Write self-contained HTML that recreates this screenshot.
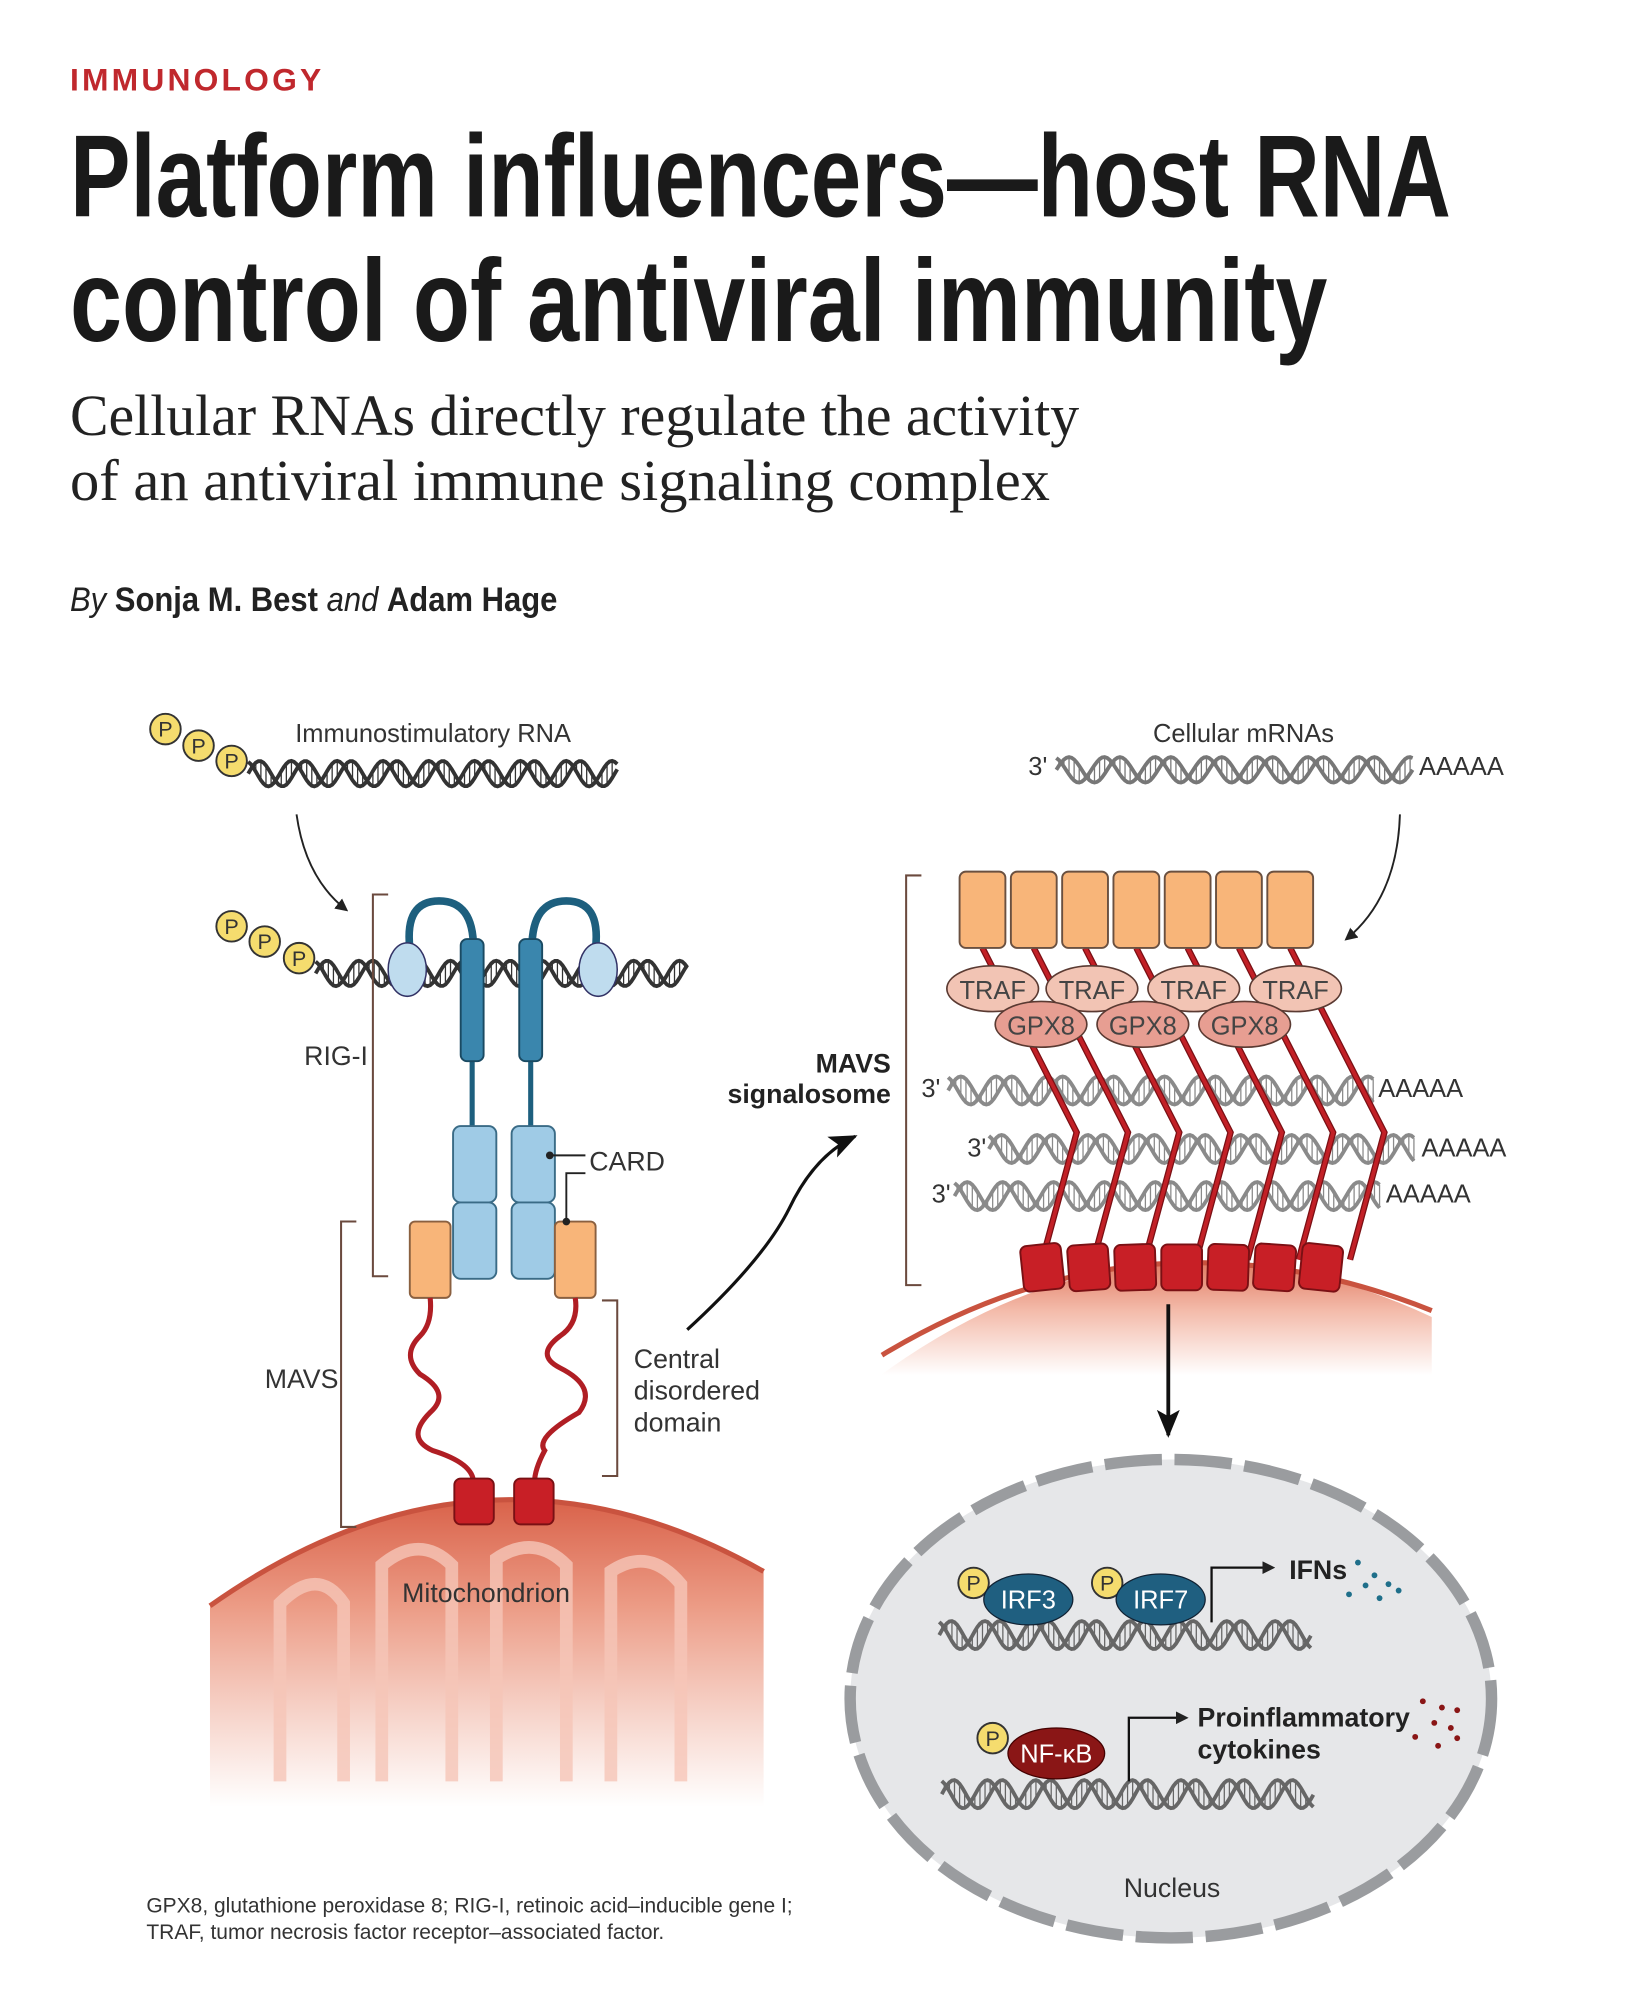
<!DOCTYPE html>
<html><head><meta charset="utf-8">
<style>
html,body{margin:0;padding:0;background:#fff;}
svg{display:block;}
text{font-family:"Liberation Sans",sans-serif;}
</style></head>
<body>
<svg id="s" width="1629" height="1999" viewBox="0 0 1280 1571" preserveAspectRatio="none" xmlns="http://www.w3.org/2000/svg">
<defs>
<linearGradient id="mito" x1="0" y1="0" x2="0" y2="1">
<stop offset="0" stop-color="#d9624a"/><stop offset="0.35" stop-color="#ec9c86"/><stop offset="1" stop-color="#fff" stop-opacity="0.9"/>
</linearGradient>
<linearGradient id="mito2" x1="0" y1="0" x2="0" y2="1">
<stop offset="0" stop-color="#e07a62"/><stop offset="0.25" stop-color="#f3b9a8"/><stop offset="0.6" stop-color="#fff"/>
</linearGradient>
<marker id="ah" markerWidth="10" markerHeight="10" refX="8" refY="5" orient="auto" markerUnits="userSpaceOnUse"><path d="M0,0 L10,5 L0,10 Z" fill="#222"/></marker>
<marker id="ahb" markerWidth="22" markerHeight="18" refX="20" refY="9" orient="auto" markerUnits="userSpaceOnUse"><path d="M0,0 L22,9 L0,18 L5,9 Z" fill="#111"/></marker>
</defs>

<!-- header -->
<text x="55" y="71" font-size="25" font-weight="bold" fill="#c0282d" letter-spacing="2.5">IMMUNOLOGY</text>
<text x="55" y="170" font-size="92" font-weight="bold" fill="#1a1a1a" textLength="1085" lengthAdjust="spacingAndGlyphs">Platform influencers—host RNA</text>
<text x="55" y="268" font-size="92" font-weight="bold" fill="#1a1a1a" textLength="988" lengthAdjust="spacingAndGlyphs">control of antiviral immunity</text>
<text x="55" y="342" font-size="46" fill="#222" style="font-family:'Liberation Serif',serif" textLength="793" lengthAdjust="spacingAndGlyphs">Cellular RNAs directly regulate the activity</text>
<text x="55" y="393" font-size="46" fill="#222" style="font-family:'Liberation Serif',serif" textLength="770" lengthAdjust="spacingAndGlyphs">of an antiviral immune signaling complex</text>
<text x="55" y="480" font-size="27" fill="#222" textLength="383" lengthAdjust="spacingAndGlyphs"><tspan font-style="italic">By </tspan><tspan font-weight="bold">Sonja M. Best</tspan><tspan font-style="italic"> and </tspan><tspan font-weight="bold">Adam Hage</tspan></text>

<!-- mitochondrion -->
<path d="M165,1420 L165,1262 Q380,1110 600,1235 L600,1420 Z" fill="url(#mito)"/>
<path d="M165,1262 Q380,1110 600,1235" fill="none" stroke="#c9533f" stroke-width="4"/>
<g fill="none" stroke="#f6c6b8" stroke-width="10" opacity="0.8">
<path d="M220,1400 L220,1260 Q250,1230 270,1260 L270,1400"/>
<path d="M300,1400 L300,1230 Q330,1205 355,1230 L355,1400"/>
<path d="M390,1400 L390,1225 Q420,1205 445,1230 L445,1400"/>
<path d="M480,1400 L480,1235 Q510,1215 535,1245 L535,1400"/>
</g>
<text x="316" y="1259" font-size="21" fill="#333">Mitochondrion</text>

<!-- right membrane -->
<path d="M693,1080 Q900,930 1125,1035 L1125,1140 L693,1140 Z" fill="url(#mito2)"/>
<path d="M693,1065 Q900,940 1125,1030" fill="none" stroke="#c9533f" stroke-width="4"/>

<!-- nucleus -->
<ellipse cx="920" cy="1335" rx="252" ry="188" fill="#e6e7e9" stroke="#9a9c9f" stroke-width="9" stroke-dasharray="45 10"/>

<g id="dyn"></g>

<!-- P circles -->
<g fill="#f5dc6e" stroke="#333" stroke-width="1.5" font-size="17">
<circle cx="130" cy="573" r="12"/><circle cx="156" cy="586" r="12"/><circle cx="182" cy="598" r="12"/>
<circle cx="182" cy="728" r="12"/><circle cx="208" cy="740" r="12"/><circle cx="235" cy="753" r="12"/>
<circle cx="765" cy="1244" r="12"/><circle cx="870" cy="1244" r="12"/><circle cx="780" cy="1366" r="12"/>
</g>
<g font-size="17" fill="#333" text-anchor="middle">
<text x="130" y="579">P</text><text x="156" y="592">P</text><text x="182" y="604">P</text>
<text x="182" y="734">P</text><text x="208" y="746">P</text><text x="235" y="759">P</text>
<text x="765" y="1250">P</text><text x="870" y="1250">P</text><text x="780" y="1372">P</text>
</g>

<text x="232" y="583" font-size="20" fill="#333">Immunostimulatory RNA</text>
<path d="M233,640 Q240,690 272,715" fill="none" stroke="#222" stroke-width="1.5" marker-end="url(#ah)"/>

<!-- RIG-I -->
<g fill="none" stroke="#1d5f7e" stroke-width="6">
<path d="M322,745 Q318,708 345,708 Q372,708 372,745"/>
<path d="M418,745 Q418,708 445,708 Q472,708 468,745"/>
<line x1="371" y1="830" x2="371" y2="888" stroke-width="4"/>
<line x1="417" y1="830" x2="417" y2="888" stroke-width="4"/>
</g>
<ellipse cx="320" cy="762" rx="15" ry="21" fill="#bfdcee" stroke="#336" stroke-width="1.2"/>
<ellipse cx="470" cy="762" rx="15" ry="21" fill="#bfdcee" stroke="#336" stroke-width="1.2"/>
<rect x="362" y="738" width="18" height="96" rx="5" fill="#3a86ad" stroke="#1a4a62" stroke-width="1.5"/>
<rect x="408" y="738" width="18" height="96" rx="5" fill="#3a86ad" stroke="#1a4a62" stroke-width="1.5"/>
<g fill="#9fcbe6" stroke="#3a6b86" stroke-width="1.5">
<rect x="356" y="885" width="34" height="60" rx="6"/><rect x="356" y="945" width="34" height="60" rx="6"/>
<rect x="402" y="885" width="34" height="60" rx="6"/><rect x="402" y="945" width="34" height="60" rx="6"/>
</g>
<g fill="#f8b579" stroke="#8a6040" stroke-width="1.5">
<rect x="322" y="960" width="32" height="60" rx="4"/><rect x="436" y="960" width="32" height="60" rx="4"/>
</g>
<!-- disordered domains -->
<g fill="none" stroke="#b01e24" stroke-width="4">
<path d="M338,1020 Q340,1040 330,1050 Q315,1065 330,1080 Q355,1095 338,1110 Q318,1130 340,1140 Q372,1150 372,1165"/>
<path d="M452,1020 Q455,1040 440,1050 Q420,1065 440,1075 Q470,1090 455,1110 Q420,1130 428,1140 Q420,1155 420,1165"/>
</g>
<rect x="357" y="1162" width="31" height="36" rx="5" fill="#c81f26" stroke="#7a1014" stroke-width="1.5"/>
<rect x="404" y="1162" width="31" height="36" rx="5" fill="#c81f26" stroke="#7a1014" stroke-width="1.5"/>

<!-- brackets -->
<g fill="none" stroke="#6b4a3e" stroke-width="1.6">
<path d="M305,703 L293,703 L293,1003 L305,1003"/>
<path d="M280,960 L268,960 L268,1200 L280,1200"/>
<path d="M473,1022 L485,1022 L485,1160 L473,1160"/>
<path d="M724,688 L712,688 L712,1010 L724,1010"/>
</g>
<g stroke="#222" stroke-width="1.5" fill="none">
<path d="M432,908 L460,908"/><path d="M445,960 L445,922 L460,922"/>
</g>
<circle cx="432" cy="908" r="3" fill="#222"/><circle cx="445" cy="960" r="3" fill="#222"/>
<text x="463" y="920" font-size="21" fill="#333">CARD</text>
<text x="239" y="837" font-size="21" fill="#333">RIG-I</text>
<text x="208" y="1091" font-size="21" fill="#333">MAVS</text>
<text x="498" y="1075" font-size="21" fill="#333">Central</text>
<text x="498" y="1100" font-size="21" fill="#333">disordered</text>
<text x="498" y="1125" font-size="21" fill="#333">domain</text>

<!-- curved arrow to signalosome -->
<path d="M540,1045 Q600,990 620,950 Q640,908 672,893" fill="none" stroke="#111" stroke-width="2.5" marker-end="url(#ahb)"/>

<!-- right top -->
<text x="906" y="583" font-size="20" fill="#333">Cellular mRNAs</text>
<text x="808" y="609" font-size="20" fill="#333">3'</text>
<text x="1115" y="609" font-size="20" fill="#333">AAAAA</text>
<path d="M1100,640 Q1098,705 1058,738" fill="none" stroke="#222" stroke-width="1.5" marker-end="url(#ah)"/>
<text x="700" y="843" font-size="21" font-weight="bold" fill="#222" text-anchor="end">MAVS</text>
<text x="700" y="867" font-size="21" font-weight="bold" fill="#222" text-anchor="end">signalosome</text>
<text x="724" y="862" font-size="20" fill="#333">3'</text><text x="1083" y="862" font-size="20" fill="#333">AAAAA</text>
<text x="760" y="909" font-size="20" fill="#333">3'</text><text x="1117" y="909" font-size="20" fill="#333">AAAAA</text>
<text x="732" y="945" font-size="20" fill="#333">3'</text><text x="1089" y="945" font-size="20" fill="#333">AAAAA</text>

<g id="dyn2"></g>

<!-- down arrow -->
<line x1="918" y1="1025" x2="918" y2="1128" stroke="#111" stroke-width="3" marker-end="url(#ahb)"/>

<!-- nucleus contents -->
<ellipse cx="808" cy="1257" rx="35" ry="20" fill="#1f5f80" stroke="#123" stroke-width="1"/>
<ellipse cx="912" cy="1257" rx="35" ry="20" fill="#1f5f80" stroke="#123" stroke-width="1"/>
<text x="808" y="1264" font-size="20" fill="#fff" text-anchor="middle">IRF3</text>
<text x="912" y="1264" font-size="20" fill="#fff" text-anchor="middle">IRF7</text>
<ellipse cx="830" cy="1378" rx="38" ry="20" fill="#8a1616" stroke="#400" stroke-width="1"/>
<text x="830" y="1385" font-size="20" fill="#fff" text-anchor="middle">NF-κB</text>
<path d="M952,1275 L952,1232 L1000,1232" fill="none" stroke="#111" stroke-width="1.8" marker-end="url(#ah)"/>
<path d="M887,1400 L887,1350 L932,1350" fill="none" stroke="#111" stroke-width="1.8" marker-end="url(#ah)"/>
<text x="1013" y="1241" font-size="21" font-weight="bold" fill="#222">IFNs</text>
<text x="941" y="1357" font-size="21" font-weight="bold" fill="#222">Proinflammatory</text>
<text x="941" y="1382" font-size="21" font-weight="bold" fill="#222">cytokines</text>
<g fill="#1f6f8a">
<circle cx="1067" cy="1228" r="2.3"/><circle cx="1080" cy="1238" r="2.3"/><circle cx="1073" cy="1246" r="2.3"/><circle cx="1091" cy="1245" r="2.3"/><circle cx="1060" cy="1253" r="2.3"/><circle cx="1084" cy="1256" r="2.3"/><circle cx="1099" cy="1250" r="2.3"/>
</g>
<g fill="#8a1616">
<circle cx="1118" cy="1337" r="2.3"/><circle cx="1133" cy="1342" r="2.3"/><circle cx="1145" cy="1344" r="2.3"/><circle cx="1127" cy="1354" r="2.3"/><circle cx="1140" cy="1358" r="2.3"/><circle cx="1112" cy="1365" r="2.3"/><circle cx="1130" cy="1372" r="2.3"/><circle cx="1145" cy="1366" r="2.3"/>
</g>
<text x="883" y="1491" font-size="21" fill="#333">Nucleus</text>

<text x="115" y="1503" font-size="16.5" fill="#333">GPX8, glutathione peroxidase 8; RIG-I, retinoic acid–inducible gene I;</text>
<text x="115" y="1524" font-size="16.5" fill="#333">TRAF, tumor necrosis factor receptor–associated factor.</text>
</svg>
<script>
var NS="http://www.w3.org/2000/svg";
function el(p,t,a){var e=document.createElementNS(NS,t);for(var k in a)e.setAttribute(k,a[k]);p.appendChild(e);return e;}
function helix(p,x0,x1,y,amp,per,col,w){
  var d1="",d2="",rungs="";
  for(var x=x0;x<=x1;x+=2){var ph=(x-x0)/per*2*Math.PI;var a=y-amp*Math.sin(ph),b=y+amp*Math.sin(ph)*0.6-amp*0.2;
    d1+=(x==x0?"M":"L")+x+","+a.toFixed(1);d2+=(x==x0?"M":"L")+x+","+(y+amp*Math.sin(ph-1.2)).toFixed(1);}
  for(var x=x0+2;x<x1;x+=4){var ph=(x-x0)/per*2*Math.PI;var a=y-amp*Math.sin(ph),b=y+amp*Math.sin(ph-1.2);
    rungs+="M"+x+","+a.toFixed(1)+"L"+x+","+b.toFixed(1);}
  el(p,"path",{d:rungs,stroke:col,"stroke-width":1,fill:"none"});
  el(p,"path",{d:d1,stroke:col,"stroke-width":w,fill:"none"});
  el(p,"path",{d:d2,stroke:col,"stroke-width":w,fill:"none"});
}
var g=document.getElementById("dyn");
helix(g,195,485,608,10,36,"#333",3);
helix(g,248,540,765,10,36,"#333",3);
helix(g,830,1110,605,10,40,"#777",3);
helix(g,738,1030,1285,11,38,"#666",3);
helix(g,740,1033,1410,11,38,"#666",3);
var g2=document.getElementById("dyn2");
helix(g2,745,1080,857,11,40,"#8a8a8a",3);
helix(g2,777,1112,903,11,40,"#8a8a8a",3);
helix(g2,750,1085,940,11,40,"#8a8a8a",3);
// orange boxes
for(var i=0;i<7;i++){var cx=772+40.3*i;
  el(g2,"path",{d:"M"+cx+",745 L"+(cx+74)+",890 L"+(cx+47-i*4.5+4.5*i)+",990",stroke:"#7a0f14","stroke-width":5,fill:"none"});
  el(g2,"path",{d:"M"+cx+",745 L"+(cx+74)+",890 L"+(cx+47)+",990",stroke:"#c22026","stroke-width":3,fill:"none"});
}
for(var i=0;i<7;i++){var cx=772+40.3*i;
  el(g2,"rect",{x:cx-18,y:685,width:36,height:60,rx:5,fill:"#f8b579",stroke:"#6a5040","stroke-width":1.5});
}
var traf=[780,858,938,1018],gpx=[818,898,978];
traf.forEach(function(x){el(g2,"ellipse",{cx:x,cy:777,rx:36,ry:18,fill:"#f2c4b4",stroke:"#5a3a32","stroke-width":1.3});
  var t=el(g2,"text",{x:x,y:785,"font-size":20,fill:"#444","text-anchor":"middle"});t.textContent="TRAF";});
gpx.forEach(function(x){el(g2,"ellipse",{cx:x,cy:805,rx:36,ry:18,fill:"#e79e92",stroke:"#5a3a32","stroke-width":1.3});
  var t=el(g2,"text",{x:x,y:813,"font-size":20,fill:"#444","text-anchor":"middle"});t.textContent="GPX8";});
for(var i=0;i<7;i++){var cx=819+36.5*i;
  el(g2,"rect",{x:cx-16,y:978,width:32,height:36,rx:5,fill:"#c81f26",stroke:"#7a1014","stroke-width":1.5,transform:"rotate("+(-6+2*i)+" "+cx+" 996)"});}
</script>
</body></html>
